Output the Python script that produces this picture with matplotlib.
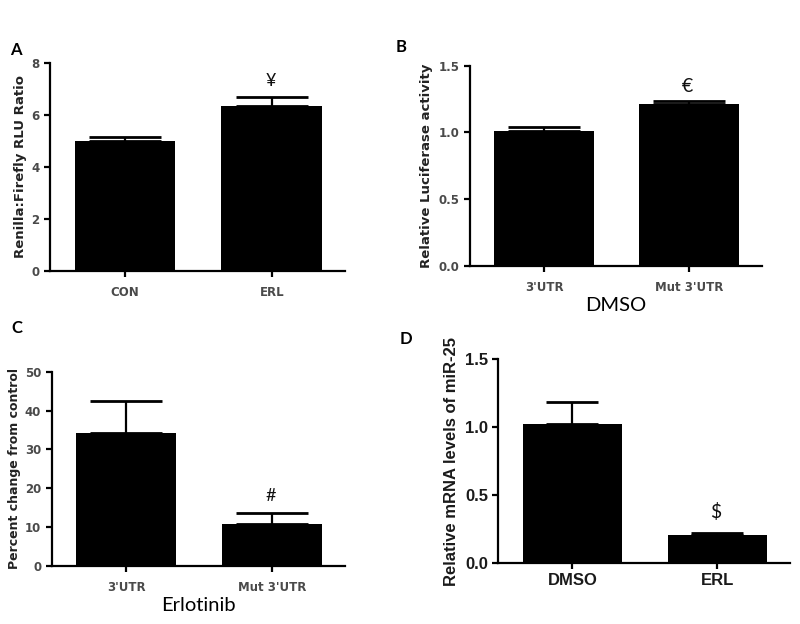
import matplotlib
matplotlib.use("Agg")
import matplotlib.pyplot as plt
import numpy as np

# panel A
a_groups = ["CON", "ERL"]
a_means = [4.98, 6.34]
a_errs = [0.17, 0.36]

# panel B
b_groups = ["3'UTR", "Mut 3'UTR"]
b_means = [1.008, 1.213]
b_errs = [0.034, 0.026]

# panel C
c_groups = ["3'UTR", "Mut 3'UTR"]
c_means = [34.3, 10.7]
c_errs = [8.1, 3.0]

# panel D
d_groups = ["DMSO", "ERL"]
d_means = [1.027, 0.208]
d_errs = [0.162, 0.013]

GRAY = "#4a4a4a"
SMALL = dict(family="DejaVu Sans", weight="bold")


def bar_panel(ax, groups, means, errs, ylim, yticks, yfmt, capsize, big=False):
    x = np.arange(len(groups))
    ax.bar(x, means, width=0.685, color="black", zorder=2)
    ax.errorbar(x, means, yerr=[np.zeros(len(errs)), errs], fmt="none",
                ecolor="black", elinewidth=1.6, capsize=capsize, capthick=2.0, zorder=1)
    ax.set_xlim(-0.51, 1.5)
    ax.set_ylim(*ylim)
    ax.set_yticks(yticks)
    ax.set_yticklabels([yfmt.format(v) for v in yticks])
    ax.set_xticks(x)
    ax.set_xticklabels(groups)
    ax.spines[["top", "right"]].set_visible(False)
    ax.spines[["left", "bottom"]].set_linewidth(1.6)
    ax.tick_params(direction="out", length=4, width=1.6)
    if big:
        for lbl in ax.get_xticklabels() + ax.get_yticklabels():
            lbl.set_fontfamily("Liberation Sans")
            lbl.set_fontweight("bold")
            lbl.set_fontsize(12)
            lbl.set_color("#1a1a1a")
        ax.tick_params(axis="x", pad=3)
    else:
        for lbl in ax.get_xticklabels() + ax.get_yticklabels():
            lbl.set_fontfamily("DejaVu Sans")
            lbl.set_fontweight("bold")
            lbl.set_fontsize(8.5)
            lbl.set_color(GRAY)
        ax.tick_params(axis="x", pad=7)


def mark(ax, xi, means, errs, sym, dy, size=13):
    ax.annotate(sym, (xi, means[xi] + errs[xi]), xytext=(-1, dy), textcoords="offset points",
                ha="center", va="center", fontsize=size, family="Lato", color="#111111")


fig = plt.figure(figsize=(8, 6.24), dpi=100)

axA = fig.add_axes([0.0625, 0.5662, 0.369, 0.3329])
bar_panel(axA, a_groups, a_means, a_errs, (0, 8), [0, 2, 4, 6, 8], "{:.0f}", 26)
axA.set_ylabel("Renilla:Firefly RLU Ratio", fontsize=9.5, color="#222222", labelpad=3, **SMALL)
mark(axA, 1, a_means, a_errs, "¥", 11)
fig.text(0.012, 0.912, "A", fontsize=12, weight="bold", family="Lato")

axB = fig.add_axes([0.5875, 0.5737, 0.3646, 0.321])
bar_panel(axB, b_groups, b_means, b_errs, (0, 1.5), [0.0, 0.5, 1.0, 1.5], "{:.1f}", 26)
axB.set_ylabel("Relative Luciferase activity", fontsize=9.5, color="#222222", labelpad=4, **SMALL)
axB.set_xlabel("DMSO", fontsize=14.5, family="Lato", labelpad=2)
mark(axB, 1, b_means, b_errs, "€", 10, size=14)
fig.text(0.495, 0.917, "B", fontsize=12, weight="bold", family="Lato")

axC = fig.add_axes([0.0646, 0.0934, 0.3666, 0.3109])
bar_panel(axC, c_groups, c_means, c_errs, (0, 50), [0, 10, 20, 30, 40, 50], "{:.0f}", 26)
axC.set_ylabel("Percent change from control", fontsize=9, color="#222222", labelpad=3, **SMALL)
axC.set_xlabel("Erlotinib", fontsize=14.5, family="Lato", labelpad=2)
mark(axC, 1, c_means, c_errs, "#", 12)
fig.text(0.014, 0.466, "C", fontsize=12, weight="bold", family="Lato")

axD = fig.add_axes([0.6229, 0.0973, 0.3646, 0.3269])
bar_panel(axD, d_groups, d_means, d_errs, (0, 1.5), [0.0, 0.5, 1.0, 1.5], "{:.1f}", 19, big=True)
axD.set_ylabel("Relative mRNA levels of miR-25", fontsize=12, family="Liberation Sans",
               weight="bold", color="#1a1a1a", labelpad=4)
mark(axD, 1, d_means, d_errs, "$", 15, size=14)
fig.text(0.500, 0.449, "D", fontsize=12, weight="bold", family="Lato")

fig.savefig("out.png", dpi=100, facecolor="white")
